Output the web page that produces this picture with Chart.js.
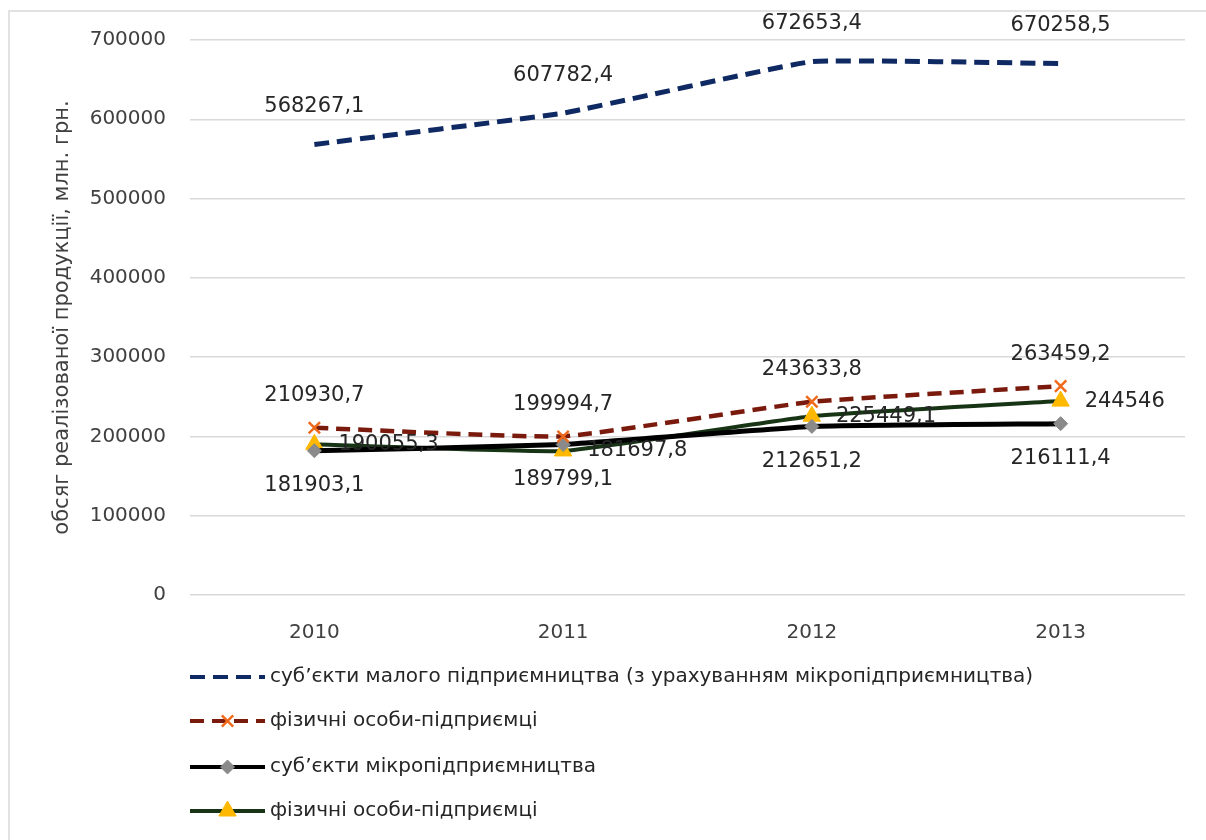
<!DOCTYPE html>
<html lang="uk">
<head>
<meta charset="utf-8">
<title>Обсяг реалізованої продукції</title>
<script src="https://cdn.jsdelivr.net/npm/chart.js@4.4.1/dist/chart.umd.min.js"></script>
<style>
  html, body { margin: 0; padding: 0; background: #fff; }
  #wrap { position: relative; width: 1206px; height: 840px; overflow: hidden; }
  #frame { position: absolute; left: 8px; top: 10px; width: 1210px; height: 840px;
           border: 2px solid #e2e2e2; box-sizing: border-box; }
  canvas { position: absolute; left: 0; top: 0; }
</style>
</head>
<body>
<div id="wrap">
  <div id="frame"></div>
  <canvas id="chart" width="1206" height="840"></canvas>
</div>
<script>
const years = ["2010", "2011", "2012", "2013"];

const smallBiz = [568267.1, 607782.4, 672653.4, 670258.5];
const individualsA = [210930.7, 199994.7, 243633.8, 263459.2];
const microBiz = [181903.1, 189799.1, 212651.2, 216111.4];
const individualsB = [190055.3, 181697.8, 225449.1, 244546];

const seriesNames = [
    "суб’єкти малого підприємництва (з урахуванням мікропідприємництва)",
    "фізичні особи-підприємці",
    "суб’єкти мікропідприємництва",
    "фізичні особи-підприємці"
];

const yTicks = [0, 100000, 200000, 300000, 400000, 500000, 600000, 700000];

const FONT = "'DejaVu Sans', sans-serif";

// where each value label sits relative to its point
const labelPlacement = [
    ["above", "above", "above", "above"],
    ["above", "above", "above", "above"],
    ["below", "below", "below", "below"],
    ["right", "right", "right", "right"]
];

const fmt = (v) => String(v).replace(".", ",");

const valueLabels = {
    id: "valueLabels",
    afterDatasetsDraw(chart) {
        const ctx = chart.ctx;
        ctx.save();
        ctx.font = "21px " + FONT;
        ctx.fillStyle = "#262626";
        ctx.textBaseline = "middle";
        chart.data.datasets.forEach((ds, di) => {
            const meta = chart.getDatasetMeta(di);
            meta.data.forEach((pt, i) => {
                const pos = labelPlacement[di][i];
                const txt = fmt(ds.data[i]);
                if (pos === "above") {
                    ctx.textAlign = "center";
                    ctx.fillText(txt, pt.x, pt.y - (di === 0 ? 38 : 32));
                } else if (pos === "below") {
                    ctx.textAlign = "center";
                    ctx.fillText(txt, pt.x, pt.y + 35);
                } else {
                    ctx.textAlign = "left";
                    ctx.fillText(txt, pt.x + 24, pt.y);
                }
            });
        });
        ctx.restore();
    }
};

const bottomLegend = {
    id: "bottomLegend",
    afterDraw(chart) {
        const ctx = chart.ctx;
        const x0 = 190, x1 = 265;
        const rows = [677, 721, 767, 811];
        chart.data.datasets.forEach((ds, di) => {
            const y = rows[di];
            ctx.save();
            ctx.strokeStyle = ds.borderColor;
            ctx.lineWidth = Math.min(ds.borderWidth, 4);
            ctx.setLineDash(ds.borderDash || []);
            ctx.beginPath();
            ctx.moveTo(x0, y);
            ctx.lineTo(x1, y);
            ctx.stroke();
            ctx.restore();
            if (ds.pointRadius > 0) {
                ctx.save();
                ctx.fillStyle = ds.pointBackgroundColor;
                ctx.strokeStyle = ds.pointBorderColor;
                ctx.lineWidth = ds.pointBorderWidth;
                Chart.helpers.drawPoint(ctx, {
                    pointStyle: ds.pointStyle,
                    radius: ds.pointRadius,
                    borderWidth: ds.pointBorderWidth,
                    rotation: 0
                }, (x0 + x1) / 2, y);
                ctx.restore();
            }
            ctx.save();
            ctx.font = "20px " + FONT;
            ctx.fillStyle = "#262626";
            ctx.textAlign = "left";
            ctx.textBaseline = "middle";
            ctx.fillText(seriesNames[di], x1 + 5, y);
            ctx.restore();
        });
    }
};

const ctx = document.getElementById("chart").getContext("2d");

new Chart(ctx, {
    type: "line",
    data: {
        labels: years,
        datasets: [
            {
                label: seriesNames[0],
                data: smallBiz,
                borderColor: "#0f2a63",
                borderWidth: 5,
                borderDash: [15, 8],
                pointRadius: 0,
                tension: 0.1
            },
            {
                label: seriesNames[1],
                data: individualsA,
                borderColor: "#7a1a0c",
                borderWidth: 4.5,
                borderDash: [14, 8],
                pointStyle: "crossRot",
                pointRadius: 8,
                pointBorderWidth: 2.5,
                pointBorderColor: "#f06a1c",
                pointBackgroundColor: "#f06a1c",
                tension: 0.12
            },
            {
                label: seriesNames[2],
                data: microBiz,
                borderColor: "#000000",
                borderWidth: 5,
                pointStyle: "rectRot",
                pointRadius: 7,
                pointBorderWidth: 1,
                pointBorderColor: "#8a8a8a",
                pointBackgroundColor: "#8a8a8a",
                tension: 0.12
            },
            {
                label: seriesNames[3],
                data: individualsB,
                borderColor: "#173515",
                borderWidth: 4,
                pointStyle: "triangle",
                pointRadius: 10,
                pointBorderWidth: 1,
                pointBorderColor: "#ffb800",
                pointBackgroundColor: "#ffb800",
                tension: 0.12
            }
        ]
    },
    options: {
        responsive: false,
        animation: false,
        layout: { padding: { left: 50, top: 40, right: 21, bottom: 177 } },
        plugins: {
            legend: { display: false },
            tooltip: { enabled: false }
        },
        scales: {
            x: {
                offset: true,
                grid: { display: false },
                border: { display: false },
                ticks: { color: "#404040", font: { size: 20, family: FONT }, padding: 18 }
            },
            y: {
                min: 0,
                max: 700000,
                afterBuildTicks(scale) {
                    scale.ticks = yTicks.map((v) => ({ value: v }));
                },
                afterFit(scale) { scale.width = 140; },
                grid: { color: "#d9d9d9", lineWidth: 1.5, drawTicks: false },
                border: { display: false },
                ticks: {
                    color: "#404040",
                    font: { size: 20, family: FONT },
                    padding: 24,
                    callback: (v) => String(v)
                },
                title: {
                    display: true,
                    text: "обсяг реалізованої продукції, млн. грн.",
                    color: "#404040",
                    font: { size: 21, family: FONT, weight: "normal" },
                    padding: { top: 0, bottom: 0 }
                }
            }
        }
    },
    plugins: [valueLabels, bottomLegend]
});
</script>
</body>
</html>
